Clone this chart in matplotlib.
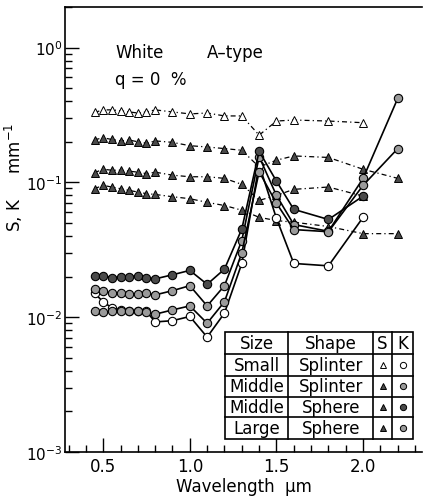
import matplotlib
matplotlib.use("Agg")
import matplotlib.pyplot as plt
from matplotlib.lines import Line2D
from matplotlib.ticker import MultipleLocator, LogLocator

# wavelengths (um)
wl_left = [0.45, 0.5, 0.55, 0.6, 0.65, 0.7, 0.75, 0.8, 0.9, 1.0, 1.1, 1.2, 1.3, 1.4, 1.5, 1.6, 1.8]
wl_to20 = wl_left + [2.0]
wl_to22 = wl_left + [2.0, 2.2]

# scattering coefficient S (mm^-1), dash-dot curves with triangles
S_small_splinter = [0.33, 0.345, 0.345, 0.34, 0.333, 0.327, 0.333, 0.345, 0.333, 0.322, 0.327,
                    0.311, 0.311, 0.224, 0.285, 0.29, 0.285, 0.277]
S_middle_splinter = [0.207, 0.214, 0.208, 0.203, 0.206, 0.200, 0.195, 0.203, 0.198, 0.187, 0.183,
                     0.178, 0.173, 0.13, 0.146, 0.157, 0.153, 0.125, 0.107]
S_middle_sphere = [0.118, 0.125, 0.123, 0.123, 0.121, 0.119, 0.116, 0.119, 0.113, 0.110, 0.110,
                   0.107, 0.0966, 0.0734, 0.08, 0.0887, 0.0923, 0.079]
S_large_sphere = [0.0897, 0.095, 0.0922, 0.0897, 0.0871, 0.0847, 0.0824, 0.0813, 0.0782, 0.0756, 0.071,
                  0.0673, 0.0621, 0.055, 0.052, 0.0506, 0.047, 0.0416, 0.0416]

# absorption coefficient K (mm^-1), solid curves with circles
K_small_splinter = [0.015, 0.013, 0.0117, 0.0113, 0.0111, 0.011, 0.011, 0.0092, 0.0094, 0.0101, 0.0071,
                    0.0107, 0.025, 0.135, 0.054, 0.025, 0.024, 0.055]
K_middle_splinter = [0.0161, 0.0156, 0.015, 0.015, 0.0148, 0.0148, 0.015, 0.0146, 0.0157, 0.0171, 0.0121,
                     0.0171, 0.037, 0.155, 0.08, 0.0486, 0.0433, 0.107, 0.42]
K_middle_sphere = [0.0203, 0.0203, 0.0196, 0.0199, 0.0199, 0.0203, 0.0196, 0.0192, 0.0206, 0.0222, 0.0175,
                   0.0227, 0.045, 0.17, 0.102, 0.063, 0.053, 0.079]
K_large_sphere = [0.011, 0.0109, 0.011, 0.0111, 0.011, 0.011, 0.0109, 0.0105, 0.0113, 0.0121, 0.009,
                  0.013, 0.03, 0.12, 0.07, 0.0446, 0.043, 0.095, 0.178]

sizes = ["Small", "Middle", "Middle", "Large"]
shapes = ["Splinter", "Splinter", "Sphere", "Sphere"]

dark = "#4a4a4a"
grey = "#9a9a9a"
dashdot = (0, (4, 2.5, 1, 2.5))

fig = plt.figure(figsize=(4.28, 5.02), dpi=100)
ax = fig.add_axes([0.152, 0.098, 0.834, 0.886])

# S curves
tri = dict(marker="^", ms=5.5, mec="black", mew=0.7, color="black", lw=0.9, ls=dashdot)
ax.plot(wl_to20, S_small_splinter, mfc="white", **tri)
ax.plot(wl_to22, S_middle_splinter, mfc=dark, **tri)
ax.plot(wl_to20, S_middle_sphere, mfc=dark, **tri)
ax.plot(wl_to22, S_large_sphere, mfc=dark, **tri)

# K curves
circ = dict(marker="o", ms=6, mec="black", mew=0.8, color="black", lw=1.2, ls="-")
ax.plot(wl_to20, K_small_splinter, mfc="white", **circ)
ax.plot(wl_to22, K_middle_splinter, mfc=grey, **circ)
ax.plot(wl_to20, K_middle_sphere, mfc=dark, **circ)
ax.plot(wl_to22, K_large_sphere, mfc=grey, **circ)

ax.set_yscale("log")
ax.set_xlim(0.28, 2.34)
ax.set_ylim(1e-3, 2.0)
ax.xaxis.set_major_locator(MultipleLocator(0.5))
ax.xaxis.set_minor_locator(MultipleLocator(0.1))
ax.yaxis.set_major_locator(LogLocator(base=10))
ax.yaxis.set_minor_locator(LogLocator(base=10, subs=range(2, 10)))
ax.tick_params(which="both", direction="in", top=False, right=False, width=1.0)
ax.tick_params(which="major", length=10)
ax.tick_params(which="minor", length=5)
ax.tick_params(axis="x", labelsize=12)
ax.tick_params(axis="y", labelsize=11, pad=2)
ax.xaxis.set_major_formatter(plt.FuncFormatter(lambda v, p: "%.1f" % v))
ax.spines["right"].set_visible(False)
for s in ["left", "bottom", "top"]:
    ax.spines[s].set_linewidth(1.2)

ax.set_xlabel("Wavelength  \u03bcm", fontsize=12, labelpad=2)
ax.set_ylabel("S, K     mm$^{-1}$", fontsize=12)
ax.yaxis.set_label_coords(-0.112, 0.62)

ax.text(0.14, 0.90, "White", transform=ax.transAxes, fontsize=12, va="center")
ax.text(0.398, 0.90, "A\u2013type", transform=ax.transAxes, fontsize=12, va="center")
ax.text(0.14, 0.838, "q = 0  %", transform=ax.transAxes, fontsize=12, va="center")

# key table in the lower right corner
cols = [0.448, 0.625, 0.863, 0.916, 0.975]
rows = [0.270, 0.220, 0.171, 0.124, 0.0787, 0.0292]
tr = ax.transAxes
ax.add_patch(plt.Rectangle((cols[0], rows[-1]), cols[-1] - cols[0], rows[0] - rows[-1],
                           transform=tr, fc="white", ec="black", lw=1.2, zorder=5))
for x in cols[1:-1]:
    ax.add_line(Line2D([x, x], [rows[-1], rows[0]], transform=tr, color="black", lw=1.2, zorder=6))
for y in rows[1:-1]:
    ax.add_line(Line2D([cols[0], cols[-1]], [y, y], transform=tr, color="black", lw=1.2, zorder=6))

def cell(i, j, txt):
    ax.text((cols[j] + cols[j + 1]) / 2, (rows[i] + rows[i + 1]) / 2, txt, transform=tr,
            ha="center", va="center", fontsize=12, zorder=7)

for j, h in enumerate(["Size", "Shape", "S", "K"]):
    cell(0, j, h)
s_fill = ["white", dark, dark, dark]
k_fill = ["white", grey, dark, grey]
for i in range(4):
    cell(i + 1, 0, sizes[i])
    cell(i + 1, 1, shapes[i])
    yc = (rows[i + 1] + rows[i + 2]) / 2
    ax.plot([(cols[2] + cols[3]) / 2], [yc], transform=tr, marker="^", ms=4.5,
            mfc=s_fill[i], mec="black", mew=0.7, zorder=7)
    ax.plot([(cols[3] + cols[4]) / 2], [yc], transform=tr, marker="o", ms=4.5,
            mfc=k_fill[i], mec="black", mew=0.7, zorder=7)

fig.savefig("out.png", dpi=100)
